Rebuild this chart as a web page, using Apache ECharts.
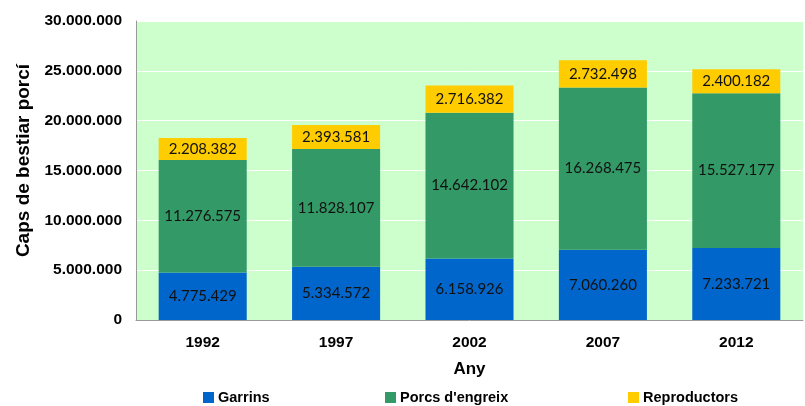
<!DOCTYPE html>
<html><head><meta charset="utf-8">
<script src="https://cdn.jsdelivr.net/npm/echarts@6/dist/echarts.min.js"></script>
<style>html,body{margin:0;padding:0;background:#fff}#c{width:805px;height:406px}</style>
</head><body><div id="c"></div>
<script>
const categories = ['1992','1997','2002','2007','2012'];
const garrins = [4775429, 5334572, 6158926, 7060260, 7233721];
const porcs = [11276575, 11828107, 14642102, 16268475, 15527177];
const reproductors = [2208382, 2393581, 2716382, 2732498, 2400182];
const yTicks = [0, 5000000, 10000000, 15000000, 20000000, 25000000, 30000000];

function fmt(v){ return String(v).replace(/\B(?=(\d{3})+(?!\d))/g, '.'); }
const chart = echarts.init(document.getElementById('c'), null, {renderer:'canvas'});
const AR = '"Liberation Sans", Arial, sans-serif';
const lbl = {show:true, position:'inside', color:'#111', fontFamily:'Lato, "Noto Sans", sans-serif', fontSize:15, formatter:p=>fmt(p.value)};
const legendBase = {top:390, itemWidth:11, itemHeight:11, icon:'rect', itemGap:0, padding:0,
  textStyle:{fontFamily:AR, fontWeight:'bold', fontSize:14.5, color:'#000', padding:[0,0,0,-1]}};
chart.setOption({
  animation:false,
  grid:{left:136, right:2, top:21, bottom:86, show:true, backgroundColor:'#CCFFCC', borderWidth:0},
  legend:[
    Object.assign({left:203, data:['Garrins']}, legendBase),
    Object.assign({left:385, data:["Porcs d'engreix"]}, legendBase),
    Object.assign({left:628, data:['Reproductors']}, legendBase)
  ],
  xAxis:{type:'category', data:categories, name:'Any', nameLocation:'middle', nameGap:41,
    nameTextStyle:{fontFamily:AR, fontWeight:'bold', fontSize:17, color:'#000'},
    axisLine:{lineStyle:{color:'#999', width:1}}, axisTick:{show:false},
    axisLabel:{fontFamily:AR, fontWeight:'bold', fontSize:15.5, color:'#000', margin:15}},
  yAxis:{type:'value', min:0, max:30000000, interval:5000000, name:'Caps de bestiar porcí', nameLocation:'middle', nameGap:102,
    nameTextStyle:{fontFamily:AR, fontWeight:'bold', fontSize:19, color:'#000', padding:[0,0,0,20]},
    axisLine:{show:true, lineStyle:{color:'#999', width:1}}, axisTick:{show:false},
    splitLine:{lineStyle:{color:'#fff', width:1}},
    axisLabel:{fontFamily:AR, fontWeight:'bold', fontSize:15.5, color:'#000', margin:14,
      formatter:v=>yTicks.indexOf(v)>=0?fmt(v):''}},
  series:[
    {name:'Garrins', type:'bar', stack:'a', data:garrins, barWidth:'66%', itemStyle:{color:'#0066CC'}, label:lbl},
    {name:"Porcs d'engreix", type:'bar', stack:'a', data:porcs, itemStyle:{color:'#339966'}, label:lbl},
    {name:'Reproductors', type:'bar', stack:'a', data:reproductors, itemStyle:{color:'#FFCC00'}, label:lbl}
  ]
});
</script></body></html>
